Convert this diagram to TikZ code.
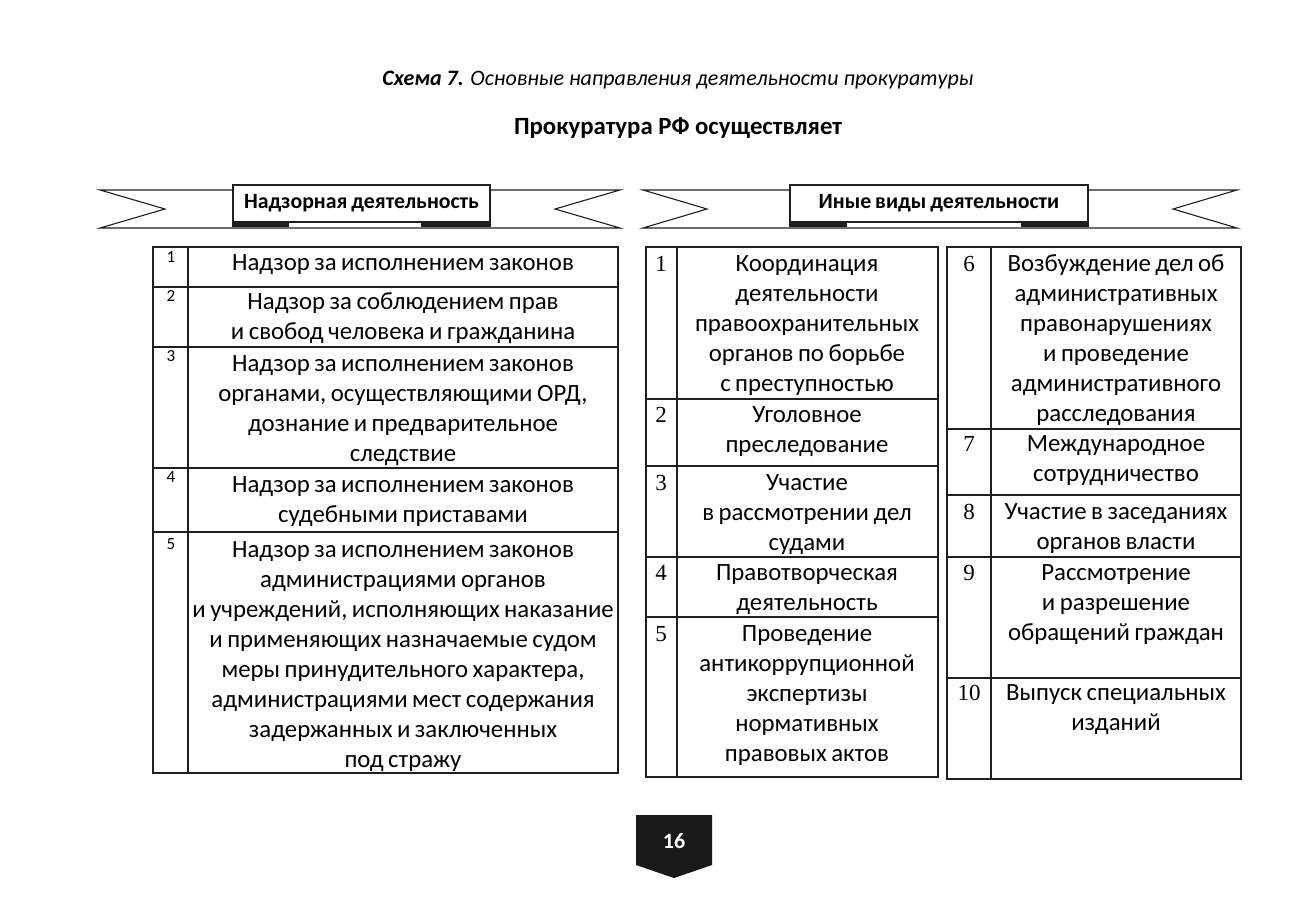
\documentclass[tikz,border=0pt]{standalone}
\usepackage{fontspec}
\setmainfont{Carlito}
\newfontfamily\numfont{Liberation Serif}
\newfontfamily\cellfont[WordSpace=0.8]{Carlito}
\usetikzlibrary{positioning}
\colorlet{ink}{black!88}
\tikzset{
  rule/.style={line width=0.75pt, ink},
  ribbon/.style={line width=0.55pt, ink},
  cell/.style={anchor=base, inner sep=0pt, align=flush center,
    font=\cellfont\fontsize{12.4}{15}\selectfont},
  lnum/.style={anchor=base, inner sep=0pt, font=\fontsize{8.5}{9}\selectfont},
  rnum/.style={anchor=base, inner sep=0pt, font=\numfont\fontsize{11.5}{13}\selectfont},
  tag/.style={draw=ink, line width=0.7pt, fill=white, inner sep=0pt, minimum height=18.5pt,
    font=\cellfont\bfseries\fontsize{10.9}{12}\selectfont},
}

\begin{document}
\begin{tikzpicture}[x=0.5pt, y=-0.5pt]
\useasboundingbox (0,0) rectangle (1307,900);
% heading
\node[font=\fontsize{11}{12}\selectfont] (capt) at (678,80)
  {\textbf{\textit{Схема 7.}} \textit{Основные направления деятельности прокуратуры}};
\node[font=\bfseries\fontsize{12.4}{14}\selectfont] (head) at (678,128) {Прокуратура РФ осуществляет};
% ribbons
\draw[ribbon] (100,190) -- (620,190) -- (555,209) -- (620,228) -- (100,228) -- (165,209) -- cycle;
\draw[ribbon] (643,190) -- (1237,190) -- (1173,209) -- (1237,228) -- (643,228) -- (707,209) -- cycle;
\node[tag, minimum width=128.5pt] (bnrL) at (361.5,203.5) {Надзорная деятельность};
\node[tag, minimum width=149pt] (bnrR) at (939,203.5) {Иные виды деятельности};
\fill[ink] (bnrL.south west) rectangle ++(57,4);
\fill[ink] (bnrL.south east) rectangle ++(-70,4);
\fill[ink] (bnrR.south west) rectangle ++(58,4);
\fill[ink] (bnrR.south east) rectangle ++(-68,4);
% left table
\draw[rule] (153,247) rectangle (618,773);
\draw[rule] (188,247) -- (188,773);
\foreach \y in {287,347,468,532}
  \draw[rule] (153,\y) -- (618,\y);
\foreach \n/\y in {1/262, 2/301, 3/361, 4/482, 5/549}
  \node[lnum] (ln\n) at (171,\y) {\n};
\node[cell, text width=225pt] (l1) at (403,270) {Надзор за исполнением законов};
\node[cell, text width=225pt] (l2) at (403,309) {Надзор за соблюдением прав\\и свобод человека и гражданина};
\node[cell, text width=225pt] (l3) at (403,371) {Надзор за исполнением законов\\органами, осуществляющими ОРД,\\дознание и предварительное\\следствие};
\node[cell, text width=225pt] (l4) at (403,492) {Надзор за исполнением законов\\судебными приставами};
\node[cell, text width=225pt] (l5) at (403,557) {Надзор за исполнением законов\\администрациями органов\\и учреждений, исполняющих наказание\\и применяющих назначаемые судом\\меры принудительного характера,\\администрациями мест содержания\\задержанных и заключенных\\под стражу};
% middle table
\draw[rule] (646,247) rectangle (938,777);
\draw[rule] (677,247) -- (677,777);
\foreach \y in {399,466,557,617}
  \draw[rule] (646,\y) -- (938,\y);
\foreach \n/\y in {1/271, 2/422, 3/490, 4/580, 5/641}
  \node[rnum] (mn\n) at (661,\y) {\n};
\node[cell, text width=140pt] (m1) at (807,271) {Координация\\деятельности\\правоохранительных\\органов по борьбе\\с преступностью};
\node[cell, text width=140pt] (m2) at (807,422) {Уголовное\\преследование};
\node[cell, text width=140pt] (m3) at (807,490) {Участие\\в рассмотрении дел\\судами};
\node[cell, text width=140pt] (m4) at (807,580) {Правотворческая\\деятельность};
\node[cell, text width=140pt] (m5) at (807,641) {Проведение\\антикоррупционной\\экспертизы\\нормативных\\правовых актов};
% right table
\draw[rule] (947,247) rectangle (1241,779);
\draw[rule] (991,247) -- (991,779);
\foreach \y in {429,495,557,678}
  \draw[rule] (947,\y) -- (1241,\y);
\foreach \n/\y in {6/271, 7/451, 8/519, 9/580, 10/700}
  \node[rnum] (rn\n) at (969,\y) {\n};
\node[cell, text width=135pt] (r6) at (1116,271) {Возбуждение дел об\\административных\\правонарушениях\\и проведение\\административного\\расследования};
\node[cell, text width=135pt] (r7) at (1116,451) {Международное\\сотрудничество};
\node[cell, text width=135pt] (r8) at (1116,519) {Участие в заседаниях\\органов власти};
\node[cell, text width=135pt] (r9) at (1116,580) {Рассмотрение\\и разрешение\\обращений граждан};
\node[cell, text width=135pt] (r10) at (1116,700) {Выпуск специальных\\изданий};
% page badge
\fill[black!90] (636,815) -- (712,815) -- (712,865) -- (674,878) -- (636,865) -- cycle;
\node[text=white, font=\bfseries\fontsize{11}{12}\selectfont] (badge) at (674,841) {16};
\end{tikzpicture}
\end{document}
